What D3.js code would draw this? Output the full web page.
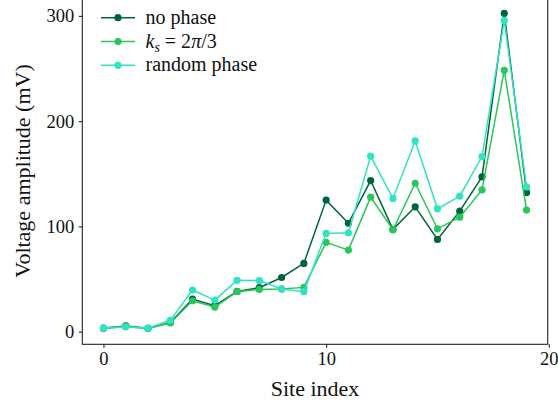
<!DOCTYPE html>
<html>
<head>
<meta charset="utf-8">
<script src="https://cdn.jsdelivr.net/npm/d3@7/dist/d3.min.js"></script>
<style>
  html, body { margin: 0; padding: 0; background: #ffffff; }
  svg { display: block; }
</style>
</head>
<body>
<div id="chart"></div>
<script>
const siteIndex = [0,1,2,3,4,5,6,7,8,9,10,11,12,13,14,15,16,17,18,19];
const noPhase   = [3.5, 5.5, 3.2, 8.8, 31, 24.7, 38.3, 41.8, 51.5, 64.9, 125, 103, 143.6, 97.2, 118.6, 87.7, 114.5, 147, 302.4, 132.3];
const ksPhase   = [3.0, 4.8, 3.0, 8.3, 29.4, 23.4, 38.0, 40.2, 40.5, 42.1, 84.9, 77.5, 127.8, 96.8, 141, 97.7, 108.8, 134.7, 248.3, 115.5];
const randPhase = [3.6, 4.6, 3.4, 10.8, 39.6, 30, 48.8, 48.6, 40.6, 38.0, 93.4, 94, 166.7, 126.6, 181.2, 116.7, 128.7, 166.4, 295.7, 137.6];
const seriesNames = ["no phase", "ks", "random phase"];
const xTicks = [0, 10, 20];
const yTicks = [0, 100, 200, 300];
const xLabel = "Site index";
const yLabel = "Voltage amplitude (mV)";

const colors = ["#00643b", "#27c75b", "#30e3c2"];
const W = 558, H = 404;
const FONT = "'Liberation Serif', 'Times New Roman', serif";

const svg = d3.select("#chart").append("svg")
  .attr("width", W).attr("height", H)
  .style("background", "#fff");

const series = [noPhase, ksPhase, randPhase];
const allVals = series.flat();
const yMin = d3.min(allVals), yMax = d3.max(allVals);
const yPad = (yMax - yMin) * 0.05;
const xPad = (d3.max(siteIndex) - d3.min(siteIndex)) * 0.05;

const x = d3.scaleLinear()
  .domain([d3.min(siteIndex) - xPad, d3.max(siteIndex) + xPad])
  .range([82.3, 547.7]);
const y = d3.scaleLinear()
  .domain([yMin - yPad, yMax + yPad])
  .range([344.3, -2.4]);

// axes
const xAxis = d3.axisBottom(x).tickValues(xTicks).tickSize(3.5).tickPadding(4.5).tickFormat(d3.format("d"));
const yAxis = d3.axisLeft(y).tickValues(yTicks).tickSize(3.5).tickPadding(4.5).tickFormat(d3.format("d"));

const gx = svg.append("g").attr("transform", `translate(0,${y.range()[0]})`).call(xAxis);
const gy = svg.append("g").attr("transform", `translate(${x.range()[0]},0)`).call(yAxis);
[gx, gy].forEach(g => {
  g.select(".domain").remove();
  g.selectAll(".tick line").attr("stroke", "#222").attr("stroke-width", 1.1);
  g.selectAll(".tick text").attr("fill", "#111").style("font-family", FONT).style("font-size", "18.5px");
});

// frame
svg.append("rect")
  .attr("x", x.range()[0]).attr("y", y.range()[1])
  .attr("width", x.range()[1] - x.range()[0])
  .attr("height", y.range()[0] - y.range()[1])
  .attr("fill", "none").attr("stroke", "#222").attr("stroke-width", 1.1);

// series
const line = d3.line().x((d, i) => x(siteIndex[i])).y(d => y(d));
series.forEach((vals, si) => {
  const g = svg.append("g");
  g.append("path").datum(vals)
    .attr("d", line).attr("fill", "none")
    .attr("stroke", colors[si]).attr("stroke-width", 1.5);
  g.selectAll("circle").data(vals).join("circle")
    .attr("cx", (d, i) => x(siteIndex[i])).attr("cy", d => y(d))
    .attr("r", 3.6).attr("fill", colors[si]);
});

// axis labels
svg.append("text")
  .attr("x", (x.range()[0] + x.range()[1]) / 2).attr("y", 396)
  .attr("text-anchor", "middle")
  .style("font-family", FONT).style("font-size", "22px").attr("fill", "#111")
  .text(xLabel);
svg.append("text")
  .attr("transform", `translate(30,${(y.range()[0] + y.range()[1]) / 2}) rotate(-90)`)
  .attr("text-anchor", "middle")
  .style("font-family", FONT).style("font-size", "22px").attr("fill", "#111")
  .text(yLabel);

// legend
const legY = [17.7, 41.5, 65.3];
seriesNames.forEach((name, i) => {
  const g = svg.append("g");
  g.append("line").attr("x1", 101).attr("x2", 135).attr("y1", legY[i]).attr("y2", legY[i])
    .attr("stroke", colors[i]).attr("stroke-width", 1.5);
  g.append("circle").attr("cx", 118).attr("cy", legY[i]).attr("r", 3.6).attr("fill", colors[i]);
  const t = g.append("text").attr("x", 145.5).attr("y", legY[i] + 6)
    .style("font-family", FONT).style("font-size", "20px").attr("fill", "#111");
  if (name === "ks") {
    t.append("tspan").style("font-style", "italic").text("k");
    t.append("tspan").style("font-style", "italic").style("font-size", "14px").attr("dy", 4).text("s");
    t.append("tspan").attr("dy", -4).text(" = 2");
    t.append("tspan").style("font-style", "italic").text("π");
    t.append("tspan").text("/3");
  } else {
    t.text(name);
  }
});
</script>
</body>
</html>
